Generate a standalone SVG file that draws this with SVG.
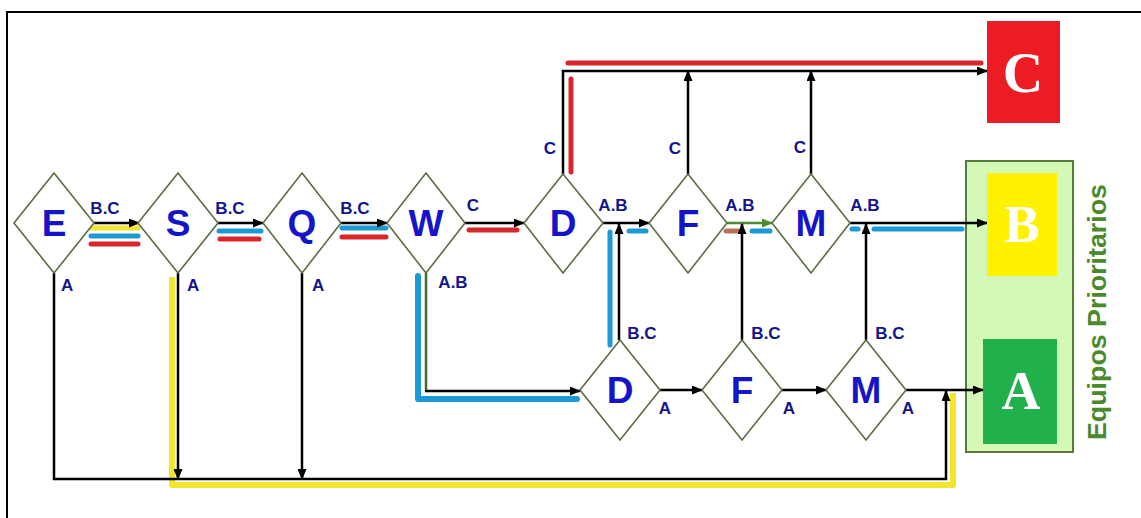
<svg xmlns="http://www.w3.org/2000/svg" width="1141" height="518" viewBox="0 0 1141 518">
<defs>
<style>
.dia{fill:#fff;stroke:#5a6e42;stroke-width:1.6}
.big{font-family:"Liberation Sans",Arial,sans-serif;font-weight:bold;font-size:37px;fill:#1414c8;text-anchor:middle}
.lbl{font-family:"Liberation Sans",Arial,sans-serif;font-weight:bold;font-size:17px;fill:#14148f}
.mid{text-anchor:middle}
.blk{fill:none;stroke:#000;stroke-width:2.5}
.grn{fill:none;stroke:#4f8a2f;stroke-width:2.5}
.olv{fill:none;stroke:#4b6a2a;stroke-width:2.5}
.hl{fill:none;stroke-width:5;stroke-linecap:round}
.y{stroke:#f3e430}
.b{stroke:#1c9ad6}
.r{stroke:#d9262b}
.br{stroke:#b8705a}
.box{font-family:"Liberation Serif","Times New Roman",serif;font-weight:bold;fill:#fff;text-anchor:middle}
</style>
<marker id="ah" markerUnits="userSpaceOnUse" markerWidth="11" markerHeight="9" refX="10" refY="4.5" orient="auto"><path d="M0,0 L11,4.5 L0,9 z" fill="#000"/></marker>
<marker id="ahg" markerUnits="userSpaceOnUse" markerWidth="11" markerHeight="9" refX="10" refY="4.5" orient="auto"><path d="M0,0 L11,4.5 L0,9 z" fill="#4f8a2f"/></marker>
</defs>
<rect width="1141" height="518" fill="#fff"/>
<path d="M7,518 V12 H1141" fill="none" stroke="#000" stroke-width="2"/>

<g id="panel">
<rect x="966" y="161" width="107" height="291" fill="#d3f8b8" stroke="#5a7a3a" stroke-width="2"/>
<text transform="translate(1106,440) rotate(-90)" font-family="'Liberation Sans',Arial,sans-serif" font-weight="bold" font-size="26" fill="#4a8a2a" textLength="256" lengthAdjust="spacingAndGlyphs">Equipos Prioritarios</text>
</g>

<g id="connectors">
<path class="hl y" d="M91,228 H138"/>
<path class="hl b" d="M91,236 H138"/>
<path class="hl r" d="M91,244 H138"/>
<path class="hl b" d="M219,231 H261"/>
<path class="hl r" d="M220,239 H259"/>
<path class="hl b" d="M342,228 H386"/>
<path class="hl r" d="M342,237 H386"/>
<path class="hl r" d="M469,230 H517"/>
<path class="hl r" d="M571,79 V172"/>
<path class="hl r" d="M568,63 H981"/>
<path class="hl b" d="M629,231 H646"/>
<path class="hl b" d="M610,232 V345"/>
<path class="hl br" d="M726,231 H738"/>
<path class="hl b" d="M752,231 H770"/>
<path class="hl b" d="M852,229 H858"/>
<path class="hl b" d="M874,229 H962"/>
<path d="M418,276 V399 H577" fill="none" stroke="#1c9ad6" stroke-width="6" stroke-linejoin="round" stroke-linecap="round"/>
<path d="M172,277 V485 H953 V393" fill="none" stroke="#f3e430" stroke-width="6" stroke-linejoin="round"/>

<path class="blk" d="M93,223 H139" marker-end="url(#ah)"/>
<path class="blk" d="M217,223 H263" marker-end="url(#ah)"/>
<path class="blk" d="M340,223 H387" marker-end="url(#ah)"/>
<path class="blk" d="M465,223 H524" marker-end="url(#ah)"/>
<path class="blk" d="M603,223 H649" marker-end="url(#ah)"/>
<path class="grn" d="M727,223 H772" marker-end="url(#ahg)"/>
<path class="blk" d="M850,223 H987" marker-end="url(#ah)"/>
<path class="blk" d="M563,174 V71 H987" marker-end="url(#ah)"/>
<path class="blk" d="M688,174 V71" marker-end="url(#ah)"/>
<path class="blk" d="M811,174 V71" marker-end="url(#ah)"/>
<path class="blk" d="M619,340 V224" marker-end="url(#ah)"/>
<path class="blk" d="M742,340 V224" marker-end="url(#ah)"/>
<path class="blk" d="M866,340 V224" marker-end="url(#ah)"/>
<path class="olv" d="M426,273 V391"/>
<path class="blk" d="M425,391 H580" marker-end="url(#ah)"/>
<path class="blk" d="M660,390 H702" marker-end="url(#ah)"/>
<path class="blk" d="M782,390 H826" marker-end="url(#ah)"/>
<path class="blk" d="M906,390 H983" marker-end="url(#ah)"/>
<path class="blk" d="M54,273 V479 H946 V391" marker-end="url(#ah)"/>
<path class="blk" d="M178,273 V479" marker-end="url(#ah)"/>
<path class="blk" d="M302,273 V479" marker-end="url(#ah)"/>
</g>

<g id="edge-labels">
<text class="lbl mid" x="105" y="214">B.C</text>
<text class="lbl mid" x="230" y="214">B.C</text>
<text class="lbl mid" x="355" y="214">B.C</text>
<text class="lbl" x="61" y="291">A</text>
<text class="lbl" x="187" y="291">A</text>
<text class="lbl" x="312" y="291">A</text>
<text class="lbl mid" x="473" y="211">C</text>
<text class="lbl mid" x="613" y="211">A.B</text>
<text class="lbl mid" x="740" y="211">A.B</text>
<text class="lbl mid" x="865" y="211">A.B</text>
<text class="lbl mid" x="550" y="154">C</text>
<text class="lbl mid" x="675" y="154">C</text>
<text class="lbl mid" x="800" y="153">C</text>
<text class="lbl mid" x="453" y="288">A.B</text>
<text class="lbl mid" x="642" y="339">B.C</text>
<text class="lbl mid" x="766" y="339">B.C</text>
<text class="lbl mid" x="890" y="339">B.C</text>
<text class="lbl mid" x="665" y="414">A</text>
<text class="lbl mid" x="789" y="414">A</text>
<text class="lbl mid" x="908" y="414">A</text>
</g>

<g id="node-E"><path class="dia" d="M54,173 L94,223 L54,273 L14,223 Z"/><text class="big" x="54" y="236">E</text></g>
<g id="node-S"><path class="dia" d="M178,173 L218,223 L178,273 L138,223 Z"/><text class="big" x="178" y="236">S</text></g>
<g id="node-Q"><path class="dia" d="M302,173 L341,223 L302,273 L263,223 Z"/><text class="big" x="302" y="236">Q</text></g>
<g id="node-W"><path class="dia" d="M426,173 L465,223 L426,273 L387,223 Z"/><text class="big" x="426" y="236">W</text></g>
<g id="node-D1"><path class="dia" d="M563,174 L603,223 L563,273 L524,223 Z"/><text class="big" x="563" y="236">D</text></g>
<g id="node-F1"><path class="dia" d="M688,174 L727,223 L688,273 L649,223 Z"/><text class="big" x="688" y="236">F</text></g>
<g id="node-M1"><path class="dia" d="M811,174 L850,223 L811,273 L772,223 Z"/><text class="big" x="811" y="236">M</text></g>
<g id="node-D2"><path class="dia" d="M620,340 L660,390 L620,440 L580,390 Z"/><text class="big" x="620" y="403">D</text></g>
<g id="node-F2"><path class="dia" d="M742,340 L782,390 L742,440 L702,390 Z"/><text class="big" x="742" y="403">F</text></g>
<g id="node-M2"><path class="dia" d="M866,340 L906,390 L866,440 L826,390 Z"/><text class="big" x="866" y="403">M</text></g>

<g id="node-C"><rect x="987" y="21" width="73" height="102" fill="#ec1c24"/><text class="box" x="1023" y="92" font-size="56">C</text></g>
<g id="node-B"><rect x="987" y="173" width="70" height="103" fill="#fff200"/><text class="box" x="1022" y="242" font-size="53">B</text></g>
<g id="node-A"><rect x="983" y="339" width="74" height="105" fill="#22b04c"/><text class="box" x="1021" y="409" font-size="54">A</text></g>
</svg>
